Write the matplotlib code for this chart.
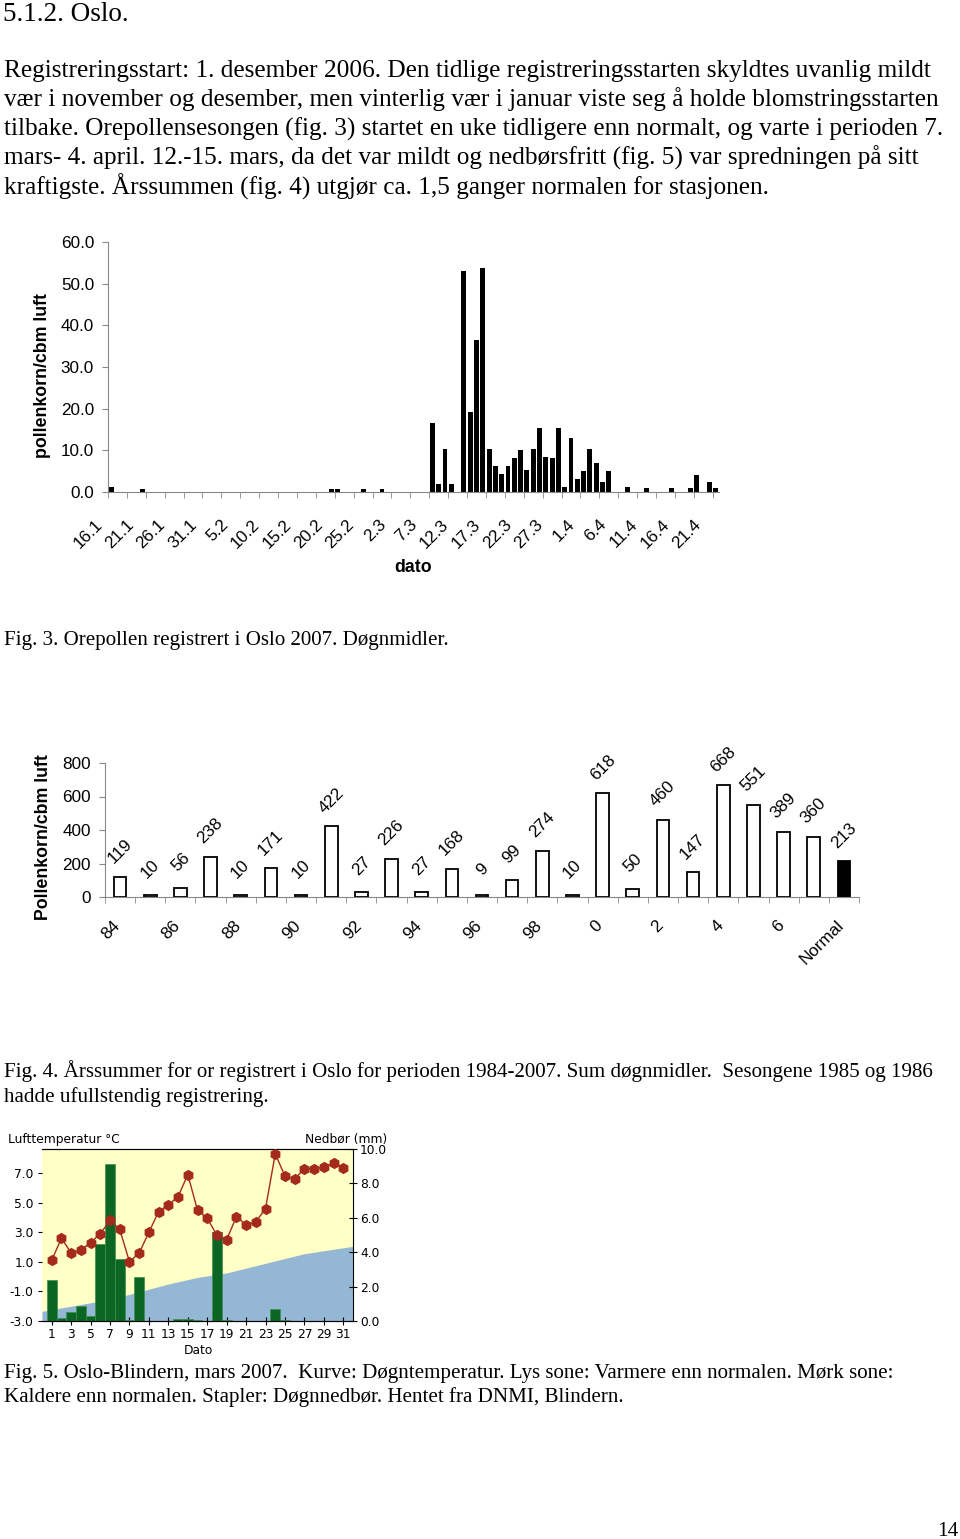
import matplotlib
matplotlib.use("Agg")
import matplotlib.pyplot as plt
import matplotlib.transforms as mtransforms
import numpy as np
from datetime import date

W, H = 960, 1539

# Fig. 3: orepollen Oslo 2007, døgnmidler
start3 = date(2007, 1, 16)
antall_dager3 = 97
dato3 = ["16.1", "21.1", "20.2", "21.2", "25.2", "28.2",
         "8.3", "9.3", "10.3", "11.3", "13.3", "14.3", "15.3", "16.3", "17.3", "18.3",
         "19.3", "20.3", "21.3", "22.3", "23.3", "24.3", "25.3", "26.3", "27.3", "28.3",
         "29.3", "30.3", "31.3", "1.4", "2.4", "3.4", "4.4", "5.4",
         "8.4", "11.4", "15.4", "18.4", "19.4", "21.4", "22.4"]
pollen3 = [1.2, 0.8, 0.8, 0.8, 0.8, 0.8,
           16.6, 2.0, 10.4, 2.0, 53.0, 19.2, 36.6, 53.8, 10.4, 6.2,
           4.3, 6.2, 8.2, 10.1, 5.4, 10.4, 15.4, 8.5, 8.2, 15.4,
           1.3, 13.0, 3.2, 5.1, 10.4, 7.0, 2.4, 5.1,
           1.3, 1.0, 1.0, 1.0, 4.0, 2.5, 1.0]
etiketter3 = ["16.1", "21.1", "26.1", "31.1", "5.2", "10.2", "15.2", "20.2", "25.2", "2.3",
              "7.3", "12.3", "17.3", "22.3", "27.3", "1.4", "6.4", "11.4", "16.4", "21.4"]

# Fig. 4: årssummer 1984-2007
aar4 = ["84", "85", "86", "87", "88", "89", "90", "91", "92", "93", "94", "95",
        "96", "97", "98", "99", "0", "1", "2", "3", "4", "5", "6", "7", "Normal"]
sum4 = [119, 10, 56, 238, 10, 171, 10, 422, 27, 226, 27, 168,
        9, 99, 274, 10, 618, 50, 460, 147, 668, 551, 389, 360, 213]

# Fig. 5: Oslo-Blindern mars 2007
dag5 = list(range(1, 32))
temp5 = [1.1, 2.6, 1.6, 1.8, 2.3, 2.9, 3.8, 3.2, 1.0, 1.6, 3.0, 4.4, 4.85, 5.4, 6.9, 4.5,
         3.95, 2.8, 2.5, 4.05, 3.5, 3.7, 4.6, 8.3, 6.8, 6.6, 7.3, 7.3, 7.4, 7.7, 7.35]
nedbor5 = [2.4, 0.2, 0.55, 0.9, 0.3, 4.5, 9.1, 3.6, 0.05, 2.55, 0, 0, 0, 0.1, 0.1, 0.05,
           0, 5.2, 0.05, 0, 0, 0, 0, 0.7, 0.05, 0, 0, 0, 0, 0, 0]
normal_dag5 = [0, 6, 9, 13, 16, 19, 23, 27, 32]
normal5 = [-2.35, -1.65, -1.2, -0.5, -0.05, 0.25, 0.9, 1.55, 2.05]

serif = "Liberation Serif"
sans = "Liberation Sans"

fig = plt.figure(figsize=(W / 100, H / 100), dpi=100)


def px_axes(left, top, right, bottom):
    return fig.add_axes([left / W, 1 - bottom / H, (right - left) / W, (bottom - top) / H])


def px_text(x, y, s, **kw):
    fig.text(x / W, 1 - y / H, s, **kw)


def flytt(labels, dx, dy):
    off = mtransforms.ScaledTranslation(dx / 100, dy / 100, fig.dpi_scale_trans)
    for lab in labels:
        lab.set_transform(lab.get_transform() + off)


# tekst
px_text(3, 21, "5.1.2. Oslo.", family=serif, fontsize=19.5, va="baseline")
avsnitt = [
    "Registreringsstart: 1. desember 2006. Den tidlige registreringsstarten skyldtes uvanlig mildt",
    "vær i november og desember, men vinterlig vær i januar viste seg å holde blomstringsstarten",
    "tilbake. Orepollensesongen (fig. 3) startet en uke tidligere enn normalt, og varte i perioden 7.",
    "mars- 4. april. 12.-15. mars, da det var mildt og nedbørsfritt (fig. 5) var spredningen på sitt",
    "kraftigste. Årssummen (fig. 4) utgjør ca. 1,5 ganger normalen for stasjonen.",
]
for i, linje in enumerate(avsnitt):
    px_text(4, 77 + i * 29.3, linje, family=serif, fontsize=18.2, va="baseline")

cap = 15.1
px_text(4, 645, "Fig. 3. Orepollen registrert i Oslo 2007. Døgnmidler.",
        family=serif, fontsize=cap, va="baseline")
px_text(4, 1077, "Fig. 4. Årssummer for or registrert i Oslo for perioden 1984-2007. Sum døgnmidler.  "
        "Sesongene 1985 og 1986", family=serif, fontsize=cap, va="baseline")
px_text(4, 1102, "hadde ufullstendig registrering.", family=serif, fontsize=cap, va="baseline")
px_text(4, 1378, "Fig. 5. Oslo-Blindern, mars 2007.  Kurve: Døgntemperatur. Lys sone: Varmere enn "
        "normalen. Mørk sone:", family=serif, fontsize=cap, va="baseline")
px_text(4, 1402, "Kaldere enn normalen. Stapler: Døgnnedbør. Hentet fra DNMI, Blindern.",
        family=serif, fontsize=cap, va="baseline")
px_text(959, 1536, "14", family=serif, fontsize=15.5, va="baseline", ha="right")

grey = "#888888"

# Fig. 3
def dag_nr(s):
    d, m = s.split(".")
    return (date(2007, int(m), int(d)) - start3).days


ax3 = px_axes(108, 242, 719, 492)
ax3.bar([dag_nr(s) for s in dato3], pollen3, width=0.78, color="black")
ax3.set_xlim(-0.5, antall_dager3 - 0.5)
ax3.set_ylim(0, 60)
ax3.set_yticks(np.arange(0, 61, 10))
ax3.set_yticklabels([f"{v:.1f}" for v in np.arange(0, 61, 10)], family=sans, fontsize=12.3)
ax3.set_xticks([dag_nr(s) for s in etiketter3])
ax3.set_xticklabels(etiketter3, rotation=45, ha="right", va="top", family=sans, fontsize=12.3)
ax3.set_xticks(np.arange(-0.5, antall_dager3, 3), minor=True)
ax3.tick_params(axis="x", which="major", length=0, pad=18)
ax3.tick_params(axis="x", which="minor", length=4, color=grey, direction="out")
ax3.tick_params(axis="y", length=4, color=grey, pad=6)
flytt(ax3.get_xticklabels(), -6, 0)
for s in ["top", "right"]:
    ax3.spines[s].set_visible(False)
for s in ["left", "bottom"]:
    ax3.spines[s].set_color(grey)
px_text(43, 376, "pollenkorn/cbm luft", family=sans, fontsize=12.8, weight="bold",
        rotation=90, ha="center", va="center")
px_text(413, 568, "dato", family=sans, fontsize=12.8, weight="bold", ha="center", va="center")

# Fig. 4
ax4 = px_axes(105, 763, 859, 897)
x4 = np.arange(len(aar4))
farger4 = ["white"] * (len(aar4) - 1) + ["black"]
ax4.bar(x4, sum4, width=0.42, color=farger4, edgecolor="black", linewidth=1.3)
for xi, v in zip(x4, sum4):
    ax4.annotate(str(v), (xi, v), xytext=(0, 26), textcoords="offset pixels",
                 ha="center", va="center", rotation=45, family=sans, fontsize=12.3)
ax4.set_xlim(-0.5, len(aar4) - 0.5)
ax4.set_ylim(0, 800)
ax4.set_yticks(np.arange(0, 801, 200))
ax4.set_yticklabels([str(v) for v in range(0, 801, 200)], family=sans, fontsize=12.3)
ax4.set_xticks(x4[::2])
ax4.set_xticklabels(aar4[::2], rotation=45, ha="right", va="top", family=sans, fontsize=12.3)
ax4.set_xticks(np.arange(-0.5, len(aar4), 1), minor=True)
ax4.tick_params(axis="x", which="major", length=0, pad=15)
ax4.tick_params(axis="x", which="minor", length=4, color=grey)
ax4.tick_params(axis="y", length=4, color=grey, pad=6)
flytt(ax4.get_xticklabels(), 3, 0)
for s in ["top", "right"]:
    ax4.spines[s].set_visible(False)
for s in ["left", "bottom"]:
    ax4.spines[s].set_color(grey)
px_text(44, 837, "Pollenkorn/cbm luft", family=sans, fontsize=12.8, weight="bold",
        rotation=90, ha="center", va="center")

# Fig. 5
small = "DejaVu Sans"
ax5 = px_axes(42, 1149, 353, 1321)
ax5.set_facecolor("#FFFFC6")
ax5.fill_between(normal_dag5, -3, normal5, color="#93B7D4", lw=0)
ax5.set_xlim(0, 32)
ax5.set_ylim(-3, 8.63)
ax5.set_yticks(np.arange(-3, 8, 2))
ax5.set_yticklabels([f"{v:.1f}" for v in np.arange(-3, 8, 2)], family=small, fontsize=8.8)
ax5.set_xticks(dag5[::2])
ax5.set_xticklabels([str(d) for d in dag5[::2]], family=small, fontsize=8.8)
ax5.tick_params(axis="y", length=3, pad=3, color="black")
ax5.tick_params(axis="x", length=6, direction="inout", pad=2, color="black")
ax5.spines["left"].set_visible(False)
ax5.spines["right"].set_visible(False)

ax5r = ax5.twinx()
ax5r.bar(dag5, nedbor5, width=1.0, color="#0B6523", edgecolor="#3F8F4F", linewidth=0.5)
ax5r.set_ylim(0, 10)
ax5r.set_yticks(np.arange(0, 11, 2))
ax5r.set_yticklabels([f"{v:.1f}" for v in np.arange(0, 11, 2)], family=small, fontsize=8.8)
ax5r.tick_params(axis="y", length=6, direction="inout", pad=2, color="black")
ax5r.spines["left"].set_visible(False)

ax5t = ax5.twinx()
ax5t.plot(dag5, temp5, color="#A42A1C", lw=1.0, marker="h", ms=7, mfc="#A42A1C", mec="#A42A1C")
ax5t.set_ylim(-3, 8.63)
ax5t.set_xlim(0, 32)
ax5t.axis("off")

px_text(8, 1139, "Lufttemperatur °C", family=small, fontsize=8.8, va="center")
px_text(387, 1139, "Nedbør (mm)", family=small, fontsize=8.8, va="center", ha="right")
px_text(198, 1350, "Dato", family=small, fontsize=8.8, va="center", ha="center")

fig.savefig("out.png", dpi=100)
